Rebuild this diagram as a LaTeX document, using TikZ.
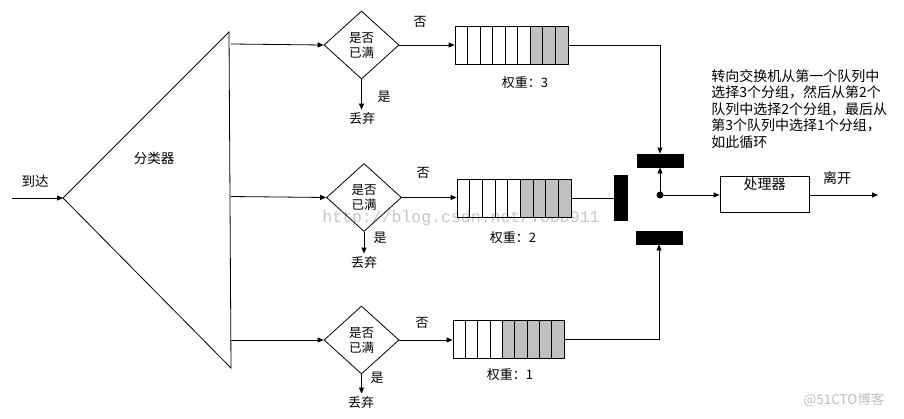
\documentclass[tikz,border=0pt]{standalone}
\usepackage{fontspec}
\setmainfont{Noto Sans CJK SC}
\newfontfamily\wmfont{Liberation Mono}
\newfontfamily\wmsans{Noto Sans CJK SC}
\usetikzlibrary{shapes.geometric,arrows.meta,calc}
\begin{document}
\begin{tikzpicture}[x=1pt,y=-1pt,
  line width=0.8pt,
  every node/.style={font=\fontsize{13}{15}\selectfont},
  arr/.style={-{Triangle[length=6pt,width=5pt]}},
  dia/.style={draw, diamond, inner sep=0pt, minimum width=75pt, minimum height=68pt, align=center, font=\fontsize{12.5}{15}\selectfont},
  qbox/.style={draw, rectangle, inner sep=0pt, minimum height=38pt},
  bar/.style={fill=black, draw=black, inner sep=0pt},
  txt/.style={inner sep=1pt},
  cellgray/.style={fill=qgray}
]
\definecolor{qgray}{HTML}{C0C0C0}
\useasboundingbox (0,0) rectangle (904,418);

% watermarks
\node[text=black!22, font=\wmfont\fontsize{16.5}{18}\selectfont, inner sep=0pt] (wm1) at (461,218) {http://blog.csdn.net/TODD911};
\node[text=black!25, font=\wmsans\fontsize{13.5}{15}\selectfont, inner sep=0pt] (wm2) at (844,400) {@51CTO博客};

% classifier triangle
\coordinate (apex) at (63,198);
\coordinate (tt) at (229,32);
\coordinate (tb) at (231,368);
\draw (apex) -- (tt) -- (tb) -- cycle;
\node[txt, font=\fontsize{13.5}{15}\selectfont] (cls) at (154,158) {分类器};
\coordinate (in) at (12,198);
\draw[arr] (in) -- (apex);
\node[txt, font=\fontsize{13.5}{15}\selectfont] (arrive) at (35,181) {到达};

\coordinate (o1) at (231,44);
\coordinate (o2) at (231,196.5);
\coordinate (o3) at (231,340);

% diamonds
\node[dia] (d1) at (361.5,45) {是否\\已满};
\node[dia] (d2) at (364,197.5) {是否\\已满};
\node[dia] (d3) at (361.5,340) {是否\\已满};

\draw[arr] (o1) -- (d1.west);
\draw[arr] (o2) -- (d2.west);
\draw[arr] (o3) -- (d3.west);

% discard
\node[txt, inner sep=3pt] (x1) at (362,119) {丢弃};
\node[txt, inner sep=3pt] (x2) at (364,263) {丢弃};
\node[txt, inner sep=3pt] (x3) at (361,403) {丢弃};
\draw[arr] (d1.south) -- (x1.north -| d1.south);
\draw[arr] (d2.south) -- (x2.north -| d2.south);
\draw[arr] (d3.south) -- (x3.north -| d3.south);
\node[txt] (y1) at (384,97) {是};
\node[txt] (y2) at (380,238) {是};
\node[txt] (y3) at (377,378) {是};
\node[txt] (n1) at (420,22) {否};
\node[txt] (n2) at (423,173) {否};
\node[txt] (n3) at (422,323) {否};

% queues: cells
\foreach \i in {0,...,8} {
  \pgfmathsetmacro{\xa}{455+\i*113/9}
  \pgfmathsetmacro{\xb}{455+(\i+1)*113/9}
  \ifnum\i>5 \draw[cellgray] (\xa,26) rectangle (\xb,64); \else \draw (\xa,26) rectangle (\xb,64); \fi
}
\foreach \i in {0,...,8} {
  \pgfmathsetmacro{\xa}{457+\i*114/9}
  \pgfmathsetmacro{\xb}{457+(\i+1)*114/9}
  \ifnum\i>4 \draw[cellgray] (\xa,179) rectangle (\xb,217); \else \draw (\xa,179) rectangle (\xb,217); \fi
}
\foreach \i in {0,...,8} {
  \pgfmathsetmacro{\xa}{453+\i*111/9}
  \pgfmathsetmacro{\xb}{453+(\i+1)*111/9}
  \ifnum\i>3 \draw[cellgray] (\xa,320) rectangle (\xb,358); \else \draw (\xa,320) rectangle (\xb,358); \fi
}
\node[qbox, minimum width=113pt] (q1) at (511.5,45) {};
\node[qbox, minimum width=114pt] (q2) at (514,198) {};
\node[qbox, minimum width=111pt] (q3) at (508.5,339) {};

\draw[arr] (d1.east) -- (q1.west |- d1.east);
\draw[arr] (d2.east) -- (q2.west |- d2.east);
\draw[arr] (d3.east) -- (q3.west |- d3.east);

\node[txt] (w1) at (525,83) {权重：3};
\node[txt] (w2) at (513,238) {权重：2};
\node[txt] (w3) at (510,375) {权重：1};

% switch bars
\node[bar, minimum width=46pt, minimum height=13pt] (bT) at (660,160.5) {};
\node[bar, minimum width=13pt, minimum height=45pt] (bM) at (620.5,197.5) {};
\node[bar, minimum width=46pt, minimum height=13pt] (bB) at (659,237.5) {};

\draw[arr] (q1.east) -| (bT.north);
\draw (q2.east) -- (bM.west |- q2.east);
\draw[arr] (q3.east) -| (bB.south);

% pivot dot
\node[circle, fill=black, inner sep=0pt, minimum size=7pt] (dot) at (660,195) {};
\draw[arr] (dot.center) -- (bT.south);

% processor
\node[draw, rectangle, minimum width=89pt, minimum height=36pt, inner sep=0pt,
      label={[anchor=north, inner sep=0pt, yshift=-2pt, font=\fontsize{14}{15}\selectfont]north:处理器}] (proc) at (764.5,194) {};
\draw[arr] (dot.center) -- (proc.west |- dot.center);
\coordinate (out) at (878,195);
\draw[arr] (proc.east |- out) -- (out);
\node[txt, font=\fontsize{14}{15}\selectfont] (leave) at (837,178) {离开};

% annotation
\node[anchor=north west, align=left, inner sep=0pt, font=\fontsize{14}{16.5}\selectfont] (note) at (711,69)
  {转向交换机从第一个队列中\\选择3个分组，然后从第2个\\队列中选择2个分组，最后从\\第3个队列中选择1个分组，\\如此循环};
\end{tikzpicture}
\end{document}
